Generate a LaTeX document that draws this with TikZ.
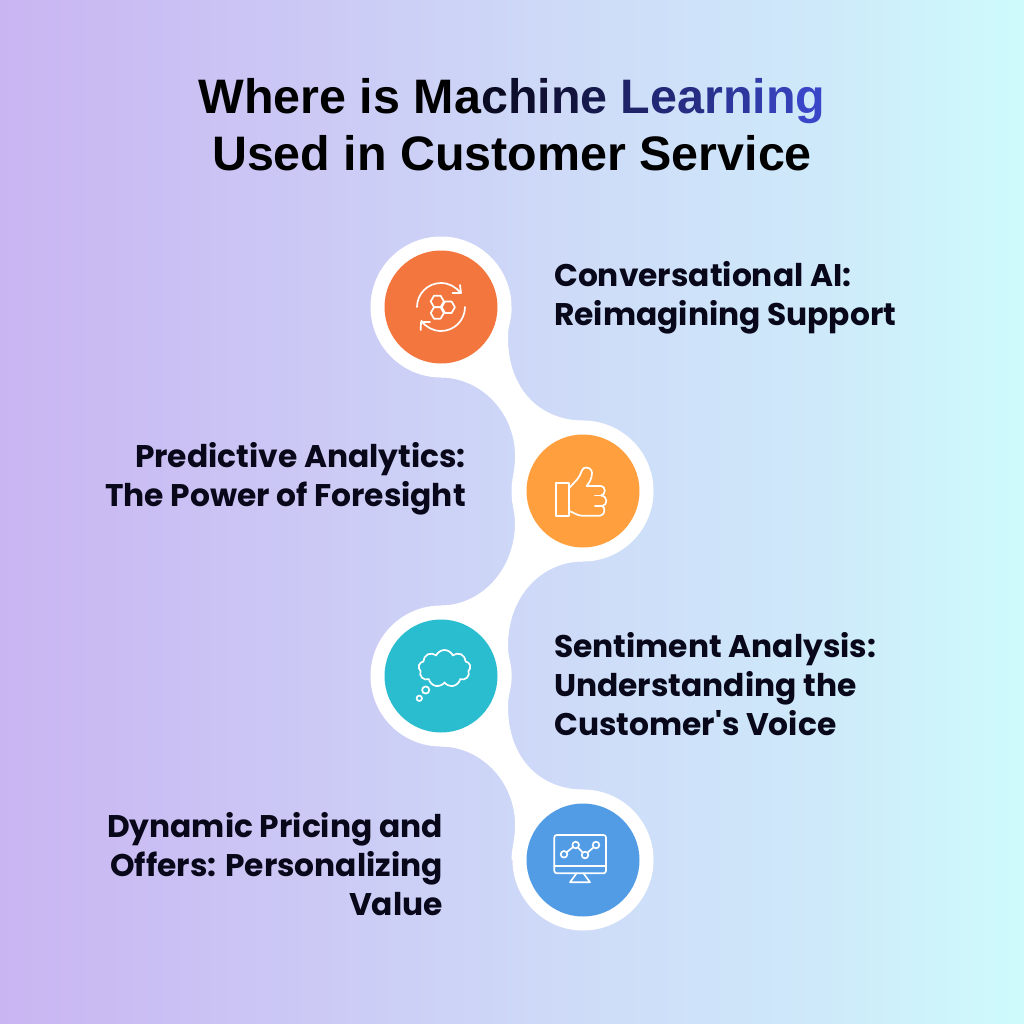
\documentclass[tikz,border=0pt]{standalone}
\usepackage{fontspec}
\newfontfamily\bodyfont{Poppins}
\newfontfamily\titlefont{Liberation Sans}
\usetikzlibrary{shapes.symbols,positioning}

\definecolor{bgleft}{HTML}{C9B5F2}
\definecolor{bgmid}{HTML}{CEDBF8}
\definecolor{bgright}{HTML}{CEFBFC}
\definecolor{orangedark}{HTML}{F2763D}
\definecolor{orangelight}{HTML}{FF9F3E}
\definecolor{teal}{HTML}{2ABCCF}
\definecolor{skyblue}{HTML}{529CE5}
\definecolor{titleblue}{HTML}{3A46C8}
\definecolor{inkblack}{HTML}{08081A}

\pgfdeclarehorizontalshading{pagebg}{100bp}{
  color(0bp)=(bgleft); color(25bp)=(bgleft); color(38bp)=(bgleft!55!bgmid); color(53bp)=(bgmid); color(65bp)=(bgmid!55!bgright); color(75bp)=(bgright); color(100bp)=(bgright)}

\newcommand{\tl}[2]{\textcolor{titleblue!#1!inkblack}{#2}}

\begin{document}
\begin{tikzpicture}[x=1pt,y=-1pt]

\tikzset{
  disc/.style={circle, minimum size=113pt, inner sep=0pt},
  halo/.style={circle, fill=white, minimum size=141pt, inner sep=0pt},
  lbl/.style={font=\bodyfont\fontsize{31.3}{39}\selectfont\bfseries, text=inkblack, inner sep=0pt},
  ico/.style={draw=white, line width=1.7pt, line join=round, line cap=round},
}

\useasboundingbox (0,0) rectangle (1024,1024);
\shade[shading=pagebg] (0,0) rectangle (1024,1024);

% white ribbon behind the discs
\node[halo] (h1) at (441,307) {};
\node[halo] (h2) at (583,491) {};
\node[halo] (h3) at (441,676) {};
\node[halo] (h4) at (583,860) {};

\fill[white] (441,377.5) .. controls (483,378) and (517,415) .. (515,460) .. controls (514.5,472) and (511.5,480) .. (511.5,491)
  -- (583,491) -- (583,420.5) .. controls (541,420.5) and (507,390) .. (508,335) .. controls (508.3,325) and (511.5,318) .. (511.5,307) -- (441,307) -- cycle;
\fill[white] (511.5,491) .. controls (511.5,505) and (515,512) .. (515,523) .. controls (515,568) and (483,605) .. (441,605.5)
  -- (441,676) -- (511.5,676) .. controls (511.5,665) and (508.3,658) .. (508,648) .. controls (507,597) and (541,561.5) .. (583,561.5) -- (583,491) -- cycle;
\fill[white] (441,746.5) .. controls (483,747) and (517,784) .. (515,829) .. controls (514.5,841) and (511.5,849) .. (511.5,860)
  -- (583,860) -- (583,789.5) .. controls (541,789.5) and (507,759) .. (508,704) .. controls (508.3,694) and (511.5,687) .. (511.5,676) -- (441,676) -- cycle;

\node[disc, fill=orangedark] (d1) at (h1) {};
\node[disc, fill=orangelight] (d2) at (h2) {};
\node[disc, fill=teal] (d3) at (h3) {};
\node[disc, fill=skyblue] (d4) at (h4) {};

% refresh icon
\begin{scope}[shift={(d1.center)}, ico]
  \draw (-24,0) arc[start angle=180, end angle=325, radius=24];
  \draw (24,0) arc[start angle=0, end angle=145, radius=24];
  \draw (19,-22) -- (20,-14) -- (11.5,-14);
  \draw (-20.3,23) -- (-20,15) -- (-11,15);
  \foreach \hx/\hy in {-3.7/-5.6, -3.7/6, 7.3/0.2}
    \draw (\hx,\hy) +(0:6.6) -- +(60:6.6) -- +(120:6.6) -- +(180:6.6) -- +(240:6.6) -- +(300:6.6) -- cycle;
\end{scope}

% thumb icon
\begin{scope}[ico]
  \draw (555.7,483.3) rectangle (569,515.7);
  \draw (569,488.3) -- (577.5,479) .. controls (581,475) and (581,470) .. (584,468)
    .. controls (588,466.5) and (592,469) .. (592,473) .. controls (592,479) and (589,483) .. (586.5,486)
    -- (601,486) .. controls (606,486) and (606,495) .. (601,495.5)
    .. controls (608,496) and (608,505.5) .. (602,506) .. controls (606,507) and (605,515.7) .. (600,515.7)
    -- (582,515.7) .. controls (577,515.7) and (573,512) .. (569,511);
  \draw (601,495.5) -- (595,495.5);
  \draw (602,506) -- (595,506);
\end{scope}

% thought icon
\node[cloud, draw=white, line width=1.7pt, cloud puffs=9, cloud puff arc=130, aspect=1.4,
  minimum width=52pt, minimum height=37pt, inner sep=0pt] (thought) at (444.5,668.5) {};
\draw[ico] (425.7,690) circle[radius=3.6];
\draw[ico] (419.3,698.3) circle[radius=2.7];

% monitor icon
\begin{scope}[ico]
  \draw[rounded corners=2.5pt] (554.3,835) rectangle (606,873.3);
  \draw (554.3,865.7) -- (606,865.7);
  \draw (576.5,873.3) -- (570,882.3) -- (590,882.3) -- (583.5,873.3);
  \draw (564,854.3) -- (575.7,845) -- (585,855) -- (596,845);
  \foreach \px/\py in {564/854.3, 575.7/845, 585/855, 596/845}
    \draw[fill=skyblue] (\px,\py) circle[radius=3.3];
\end{scope}

% title
\node[font=\titlefont\fontsize{48.4}{56.5}\selectfont\bfseries, text=black, align=center, inner sep=0pt] (title) at (512,124.5)
  {Where is Ma\tl{5}{c}\tl{10}{h}\tl{15}{i}\tl{20}{n}\tl{28}{e} \tl{45}{L}\tl{52}{e}\tl{60}{a}\tl{68}{r}\tl{75}{n}\tl{82}{i}\tl{90}{n}\tl{100}{g}\\Used in Customer Service};

% labels
\node[lbl, anchor=west, align=left] (t1) at (554,298) {Conversational AI:\\Reimagining Support};
\node[lbl, anchor=east, align=right] (t2) at (466,479) {Predictive Analytics:\\The Power of Foresight};
\node[lbl, anchor=west, align=left] (t3) at (554,684) {Sentiment Analysis:\\Understanding the\\Customer's Voice};
\node[lbl, anchor=east, align=right] (t4) at (443,864) {Dynamic Pricing and\\Offers: Personalizing\\Value};

\end{tikzpicture}
\end{document}
